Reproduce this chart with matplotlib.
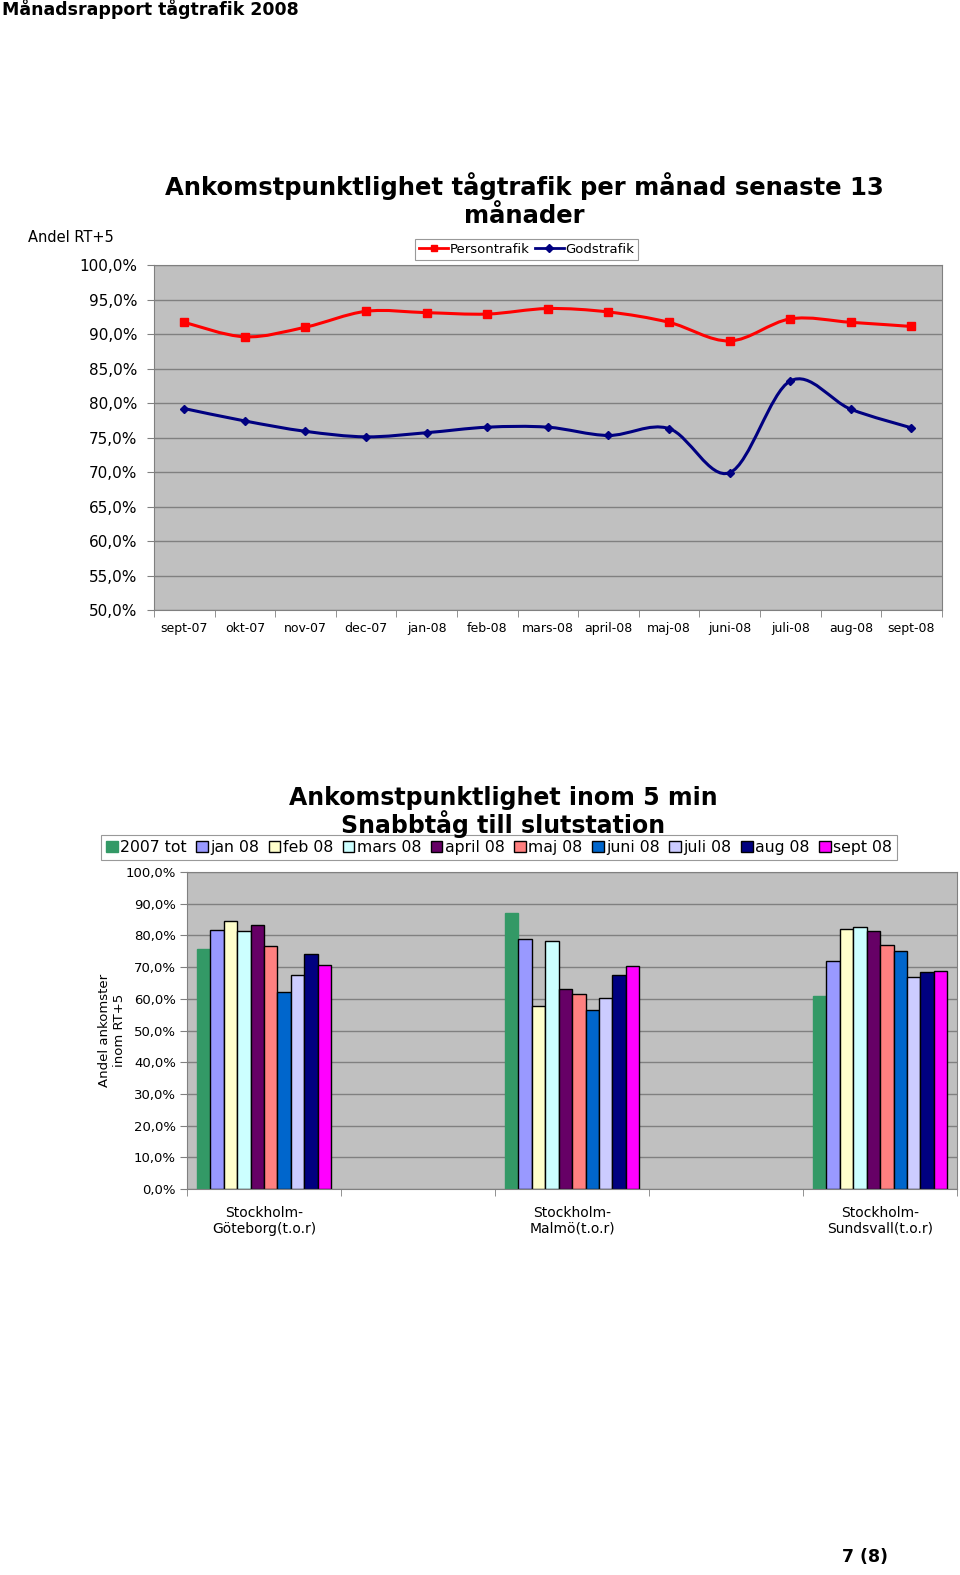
import matplotlib
matplotlib.use("Agg")
import matplotlib.pyplot as plt
from matplotlib.path import Path
from matplotlib.patches import PathPatch
import numpy as np

# --- data, top chart (andel RT+5 per month, %) ---
months = ["sept-07", "okt-07", "nov-07", "dec-07", "jan-08", "feb-08", "mars-08",
          "april-08", "maj-08", "juni-08", "juli-08", "aug-08", "sept-08"]
persontrafik = [91.7, 89.6, 91.0, 93.3, 93.1, 92.9, 93.7, 93.2, 91.7, 89.0, 92.2, 91.7, 91.1]
godstrafik = [79.2, 77.4, 75.9, 75.1, 75.7, 76.5, 76.5, 75.3, 76.3, 69.9, 83.2, 79.1, 76.4]
top_yticks = [50, 55, 60, 65, 70, 75, 80, 85, 90, 95, 100]

# --- data, bottom chart (ankomstpunktlighet inom 5 min, %) ---
routes = ["Stockholm-\nGöteborg(t.o.r)", "", "Stockholm-\nMalmö(t.o.r)", "", "Stockholm-\nSundsvall(t.o.r)"]
periods = ["2007 tot", "jan 08", "feb 08", "mars 08", "april 08", "maj 08",
           "juni 08", "juli 08", "aug 08", "sept 08"]
goteborg = [75.8, 81.6, 84.5, 81.3, 83.2, 76.7, 62.2, 67.5, 74.1, 70.6]
malmo = [87.1, 79.0, 57.6, 78.4, 63.2, 61.4, 56.6, 60.4, 67.5, 70.3]
sundsvall = [60.9, 71.9, 81.9, 82.6, 81.4, 77.0, 75.2, 66.9, 68.5, 68.9]
bot_yticks = [0, 10, 20, 30, 40, 50, 60, 70, 80, 90, 100]

bar_colors = ["#339966", "#9999FF", "#FFFFCC", "#CCFFFF", "#660066",
              "#FF8080", "#0066CC", "#CCCCFF", "#000080", "#FF00FF"]

def pct(v):
    return ("%.1f%%" % v).replace(".", ",")

def smooth_path(xs, ys):
    # excel-like smoothed line: bezier segments through the data points
    pts = np.column_stack([xs, ys]).astype(float)
    n = len(pts)
    verts = [pts[0]]
    codes = [Path.MOVETO]
    for i in range(n - 1):
        p0 = pts[i - 1] if i > 0 else pts[i]
        p1 = pts[i]
        p2 = pts[i + 1]
        p3 = pts[i + 2] if i + 2 < n else pts[i + 1]
        verts += [p1 + (p2 - p0) / 6, p2 - (p3 - p1) / 6, p2]
        codes += [Path.CURVE4] * 3
    return Path(verts, codes)

fig = plt.figure(figsize=(9.6, 15.75), dpi=100)
fig.patch.set_facecolor("white")

fig.text(0.002, 0.9945, "Månadsrapport tågtrafik 2008", fontsize=12.5, fontweight="bold",
         ha="left", va="center")
fig.text(0.901, 0.0115, "7 (8)", fontsize=12.5, fontweight="bold", ha="center", va="center")

# ---------------- top chart ----------------
ax = fig.add_axes([0.1604, 0.6127, 0.8206, 0.219])
ax.set_facecolor("#C0C0C0")
x = np.arange(len(months))
ax.set_xlim(-0.5, len(months) - 0.5)
ax.set_ylim(50, 100)
ax.set_yticks(top_yticks)
ax.set_yticklabels([pct(v) for v in top_yticks], fontsize=11)
ax.yaxis.grid(True, color="#808080", linewidth=1)
ax.set_axisbelow(True)
ax.set_xticks(x)
ax.set_xticklabels(months, fontsize=9)
ax.set_xticks(np.arange(len(months) + 1) - 0.5, minor=True)
ax.tick_params(axis="x", which="major", length=0, pad=9)
ax.tick_params(axis="x", which="minor", length=5, color="#808080")
ax.tick_params(axis="y", length=5, color="#808080", pad=7)
for s in ax.spines.values():
    s.set_color("#808080")

ax.add_patch(PathPatch(smooth_path(x, persontrafik), fill=False, edgecolor="#FF0000", lw=2.2))
ax.add_patch(PathPatch(smooth_path(x, godstrafik), fill=False, edgecolor="#000080", lw=2.2))
ax.plot(x, persontrafik, color="#FF0000", marker="s", markersize=6, linestyle="none")
ax.plot(x, godstrafik, color="#000080", marker="D", markersize=4.5, linestyle="none")
h1 = plt.Line2D([], [], color="#FF0000", lw=2, marker="s", markersize=5)
h2 = plt.Line2D([], [], color="#000080", lw=2, marker="D", markersize=4)
leg = ax.legend([h1, h2], ["Persontrafik", "Godstrafik"], ncol=2, loc="center",
                bbox_to_anchor=(0.473, 1.046), fontsize=9.5, frameon=True, fancybox=False,
                edgecolor="#808080", handlelength=2.2, handletextpad=0.1, columnspacing=0.4,
                borderpad=0.3, borderaxespad=0)
leg.get_frame().set_linewidth(0.8)

fig.text(0.546, 0.873, "Ankomstpunktlighet tågtrafik per månad senaste 13\nmånader",
         fontsize=17.5, fontweight="bold", ha="center", va="center", linespacing=1.2)
fig.text(0.029, 0.8495, "Andel RT+5", fontsize=10.5, ha="left", va="center")

# ---------------- bottom chart ----------------
bx = fig.add_axes([0.1948, 0.2451, 0.8022, 0.2012])
bx.set_facecolor("#C0C0C0")
bx.set_xlim(-0.5, len(routes) - 0.5)
bx.set_ylim(0, 100)
bx.set_yticks(bot_yticks)
bx.set_yticklabels([pct(v) for v in bot_yticks], fontsize=9.5)
bx.yaxis.grid(True, color="#808080", linewidth=1)
bx.set_axisbelow(True)
bx.set_xticks(np.arange(len(routes)))
bx.set_xticklabels(routes, fontsize=10)
bx.set_xticks(np.arange(len(routes) + 1) - 0.5, minor=True)
bx.tick_params(axis="x", which="major", length=0, pad=12)
bx.tick_params(axis="x", which="minor", length=5, color="#808080")
bx.tick_params(axis="y", length=5, color="#808080", pad=3)
for s in bx.spines.values():
    s.set_color("#808080")

group_pos = [0, 2, 4]
groups = [goteborg, malmo, sundsvall]
bw = 0.0873
for j, name in enumerate(periods):
    vals = [g[j] for g in groups]
    pos = [p - 5 * bw + (j + 0.5) * bw for p in group_pos]
    ec = bar_colors[j] if j == 0 else "black"
    bx.bar(pos, vals, width=bw, color=bar_colors[j], edgecolor=ec, linewidth=1.0,
           label=name)

leg2 = bx.legend(ncol=10, loc="center", bbox_to_anchor=(0.405, 1.078), fontsize=11.3,
                 frameon=True, fancybox=False, edgecolor="#808080", handlelength=0.75,
                 handleheight=0.75, handletextpad=0.15, columnspacing=0.6, borderpad=0.3,
                 borderaxespad=0)
leg2.get_frame().set_linewidth(0.8)

bx.set_ylabel("Andel ankomster\ninom RT+5", fontsize=9.5, labelpad=0)

fig.text(0.524, 0.4845, "Ankomstpunktlighet inom 5 min\nSnabbtåg till slutstation",
         fontsize=17, fontweight="bold", ha="center", va="center", linespacing=1.0)

fig.savefig("out.png", dpi=100)
